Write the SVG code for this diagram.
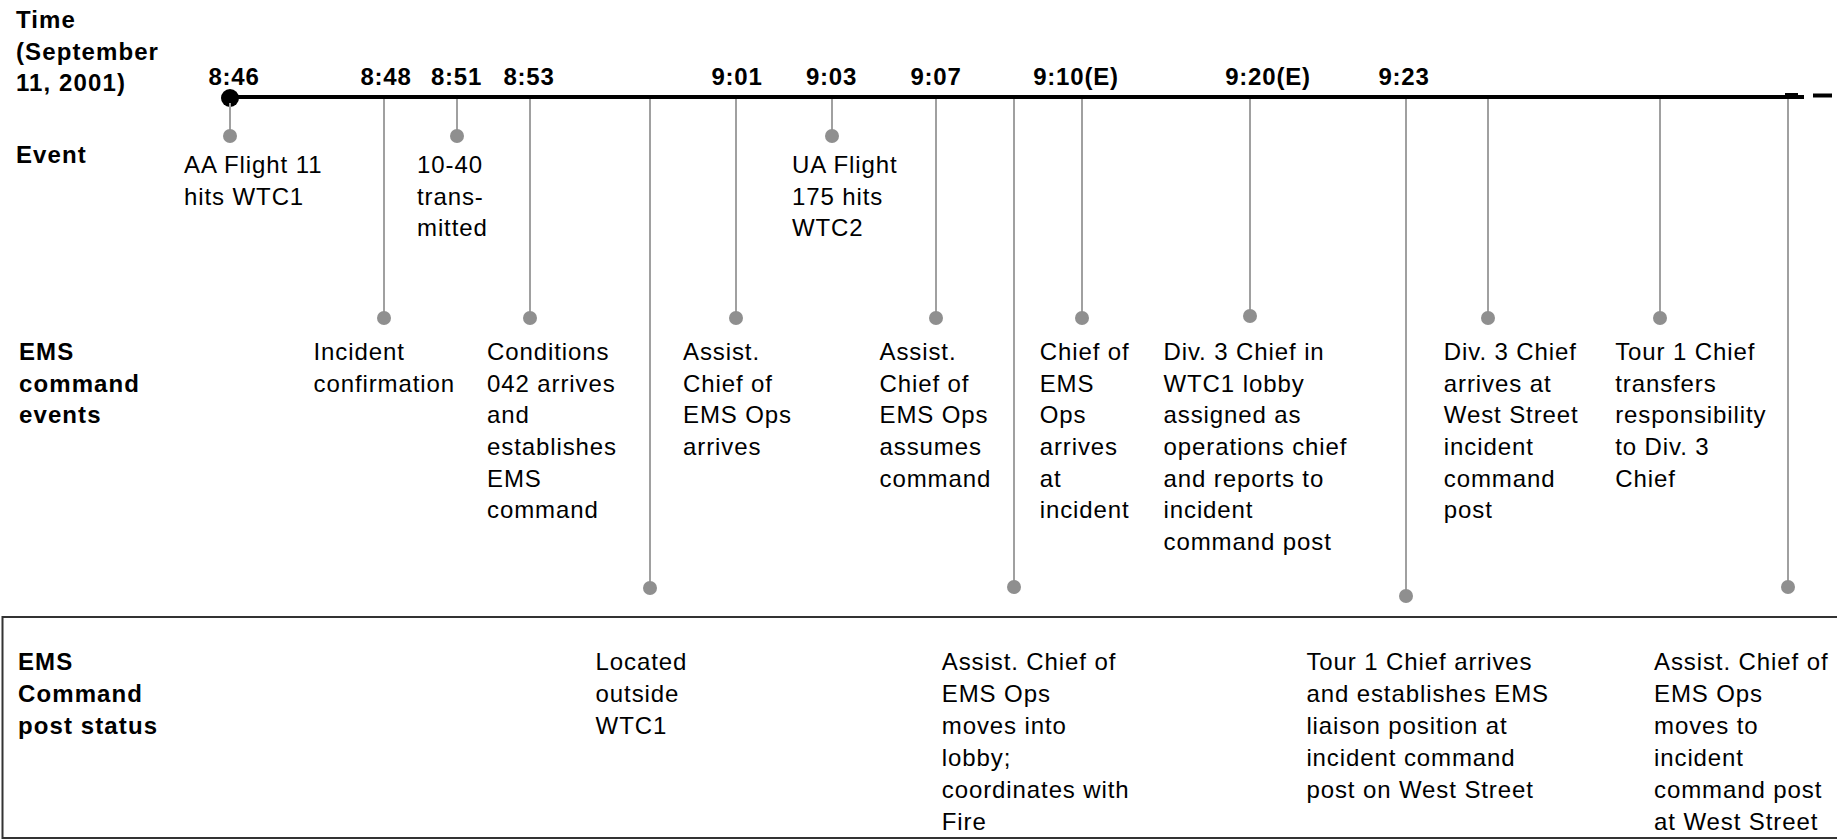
<svg xmlns="http://www.w3.org/2000/svg" width="1837" height="840" viewBox="0 0 1837 840">
<style>
text{font-family:"Liberation Sans",Arial,sans-serif;font-size:24px;fill:#000;letter-spacing:0.9px}
.b{font-weight:bold;letter-spacing:1.1px}
.t{font-weight:bold;text-anchor:middle;letter-spacing:0.8px}
.c{stroke:#a0a0a0;stroke-width:2;fill:none}
.d{fill:#8f8f8f}
</style>
<rect width="1837" height="840" fill="#fff"/>
<g id="row-labels">
<text class="b" x="16" y="28">Time</text>
<text class="b" x="16" y="59.5">(September</text>
<text class="b" x="16" y="91">11, 2001)</text>
<text class="b" x="16" y="163">Event</text>
<text class="b" x="19" y="360">EMS</text>
<text class="b" x="19" y="391.7">command</text>
<text class="b" x="19" y="423.3">events</text>
<text class="b" x="18" y="670">EMS</text>
<text class="b" x="18" y="702">Command</text>
<text class="b" x="18" y="734">post status</text>
</g>
<g id="post-box">
<path d="M1840,617 H2.5 V838 H1840" fill="none" stroke="#333" stroke-width="2"/>
</g>
<g id="timeline">
<line x1="230" y1="97" x2="1804" y2="97" stroke="#000" stroke-width="4"/>
<rect x="1785" y="93" width="13" height="6" fill="#000"/>
<line x1="1813" y1="95.5" x2="1832" y2="95.5" stroke="#000" stroke-width="4"/>
<circle cx="230" cy="98" r="9" fill="#000"/>
<text class="t" x="234" y="85">8:46</text>
<text class="t" x="386" y="85">8:48</text>
<text class="t" x="456.5" y="85">8:51</text>
<text class="t" x="529" y="85">8:53</text>
<text class="t" x="737" y="85">9:01</text>
<text class="t" x="831.5" y="85">9:03</text>
<text class="t" x="936" y="85">9:07</text>
<text class="t" x="1076" y="85">9:10(E)</text>
<text class="t" x="1268" y="85">9:20(E)</text>
<text class="t" x="1404" y="85">9:23</text>
</g>
<g id="connectors">
<line class="c" x1="230" y1="103" x2="230" y2="136"/>
<line class="c" x1="384" y1="99" x2="384" y2="318"/>
<line class="c" x1="457" y1="99" x2="457" y2="136"/>
<line class="c" x1="530" y1="99" x2="530" y2="318"/>
<line class="c" x1="650" y1="99" x2="650" y2="588"/>
<line class="c" x1="736" y1="99" x2="736" y2="318"/>
<line class="c" x1="832" y1="99" x2="832" y2="136"/>
<line class="c" x1="936" y1="99" x2="936" y2="318"/>
<line class="c" x1="1014" y1="99" x2="1014" y2="587"/>
<line class="c" x1="1082" y1="99" x2="1082" y2="318"/>
<line class="c" x1="1250" y1="99" x2="1250" y2="316"/>
<line class="c" x1="1406" y1="99" x2="1406" y2="596"/>
<line class="c" x1="1488" y1="99" x2="1488" y2="318"/>
<line class="c" x1="1660" y1="99" x2="1660" y2="318"/>
<line class="c" x1="1788" y1="99" x2="1788" y2="587"/>
</g>
<g id="ev-aa11">
<circle class="d" cx="230" cy="136" r="7"/>
<text x="184" y="173">AA Flight 11</text>
<text x="184" y="204.7">hits WTC1</text>
</g>
<g id="ev-1040">
<circle class="d" cx="457" cy="136" r="7"/>
<text x="417" y="173">10-40</text>
<text x="417" y="204.7">trans-</text>
<text x="417" y="236.4">mitted</text>
</g>
<g id="ev-ua175">
<circle class="d" cx="832" cy="136" r="7"/>
<text x="792" y="173">UA Flight</text>
<text x="792" y="204.7">175 hits</text>
<text x="792" y="236.4">WTC2</text>
</g>
<g id="cmd-incident">
<circle class="d" cx="384" cy="318" r="7"/>
<text x="313.5" y="360">Incident</text>
<text x="313.5" y="391.7">confirmation</text>
</g>
<g id="cmd-conditions">
<circle class="d" cx="530" cy="318" r="7"/>
<text x="487" y="360">Conditions</text>
<text x="487" y="391.7">042 arrives</text>
<text x="487" y="423.3">and</text>
<text x="487" y="455">establishes</text>
<text x="487" y="486.7">EMS</text>
<text x="487" y="518.3">command</text>
</g>
<g id="cmd-assist-arrives">
<circle class="d" cx="736" cy="318" r="7"/>
<text x="683" y="360">Assist.</text>
<text x="683" y="391.7">Chief of</text>
<text x="683" y="423.3">EMS Ops</text>
<text x="683" y="455">arrives</text>
</g>
<g id="cmd-assist-assumes">
<circle class="d" cx="936" cy="318" r="7"/>
<text x="879.5" y="360">Assist.</text>
<text x="879.5" y="391.7">Chief of</text>
<text x="879.5" y="423.3">EMS Ops</text>
<text x="879.5" y="455">assumes</text>
<text x="879.5" y="486.7">command</text>
</g>
<g id="cmd-chief-arrives">
<circle class="d" cx="1082" cy="318" r="7"/>
<text x="1039.7" y="360">Chief of</text>
<text x="1039.7" y="391.7">EMS</text>
<text x="1039.7" y="423.3">Ops</text>
<text x="1039.7" y="455">arrives</text>
<text x="1039.7" y="486.7">at</text>
<text x="1039.7" y="518.3">incident</text>
</g>
<g id="cmd-div3-lobby">
<circle class="d" cx="1250" cy="316" r="7"/>
<text x="1163.5" y="360">Div. 3 Chief in</text>
<text x="1163.5" y="391.7">WTC1 lobby</text>
<text x="1163.5" y="423.3">assigned as</text>
<text x="1163.5" y="455">operations chief</text>
<text x="1163.5" y="486.7">and reports to</text>
<text x="1163.5" y="518.3">incident</text>
<text x="1163.5" y="550">command post</text>
</g>
<g id="cmd-div3-west">
<circle class="d" cx="1488" cy="318" r="7"/>
<text x="1443.8" y="360">Div. 3 Chief</text>
<text x="1443.8" y="391.7">arrives at</text>
<text x="1443.8" y="423.3">West Street</text>
<text x="1443.8" y="455">incident</text>
<text x="1443.8" y="486.7">command</text>
<text x="1443.8" y="518.3">post</text>
</g>
<g id="cmd-tour1-transfers">
<circle class="d" cx="1660" cy="318" r="7"/>
<text x="1615.2" y="360">Tour 1 Chief</text>
<text x="1615.2" y="391.7">transfers</text>
<text x="1615.2" y="423.3">responsibility</text>
<text x="1615.2" y="455">to Div. 3</text>
<text x="1615.2" y="486.7">Chief</text>
</g>
<g id="post-located">
<circle class="d" cx="650" cy="588" r="7"/>
<text x="595.6" y="670">Located</text>
<text x="595.6" y="702">outside</text>
<text x="595.6" y="734">WTC1</text>
</g>
<g id="post-lobby">
<circle class="d" cx="1014" cy="587" r="7"/>
<text x="941.8" y="670">Assist. Chief of</text>
<text x="941.8" y="702">EMS Ops</text>
<text x="941.8" y="734">moves into</text>
<text x="941.8" y="766">lobby;</text>
<text x="941.8" y="798">coordinates with</text>
<text x="941.8" y="830">Fire</text>
</g>
<g id="post-liaison">
<circle class="d" cx="1406" cy="596" r="7"/>
<text x="1306.4" y="670">Tour 1 Chief arrives</text>
<text x="1306.4" y="702">and establishes EMS</text>
<text x="1306.4" y="734">liaison position at</text>
<text x="1306.4" y="766">incident command</text>
<text x="1306.4" y="798">post on West Street</text>
</g>
<g id="post-west">
<circle class="d" cx="1788" cy="587" r="7"/>
<text x="1654" y="670">Assist. Chief of</text>
<text x="1654" y="702">EMS Ops</text>
<text x="1654" y="734">moves to</text>
<text x="1654" y="766">incident</text>
<text x="1654" y="798">command post</text>
<text x="1654" y="830">at West Street</text>
</g>
</svg>
